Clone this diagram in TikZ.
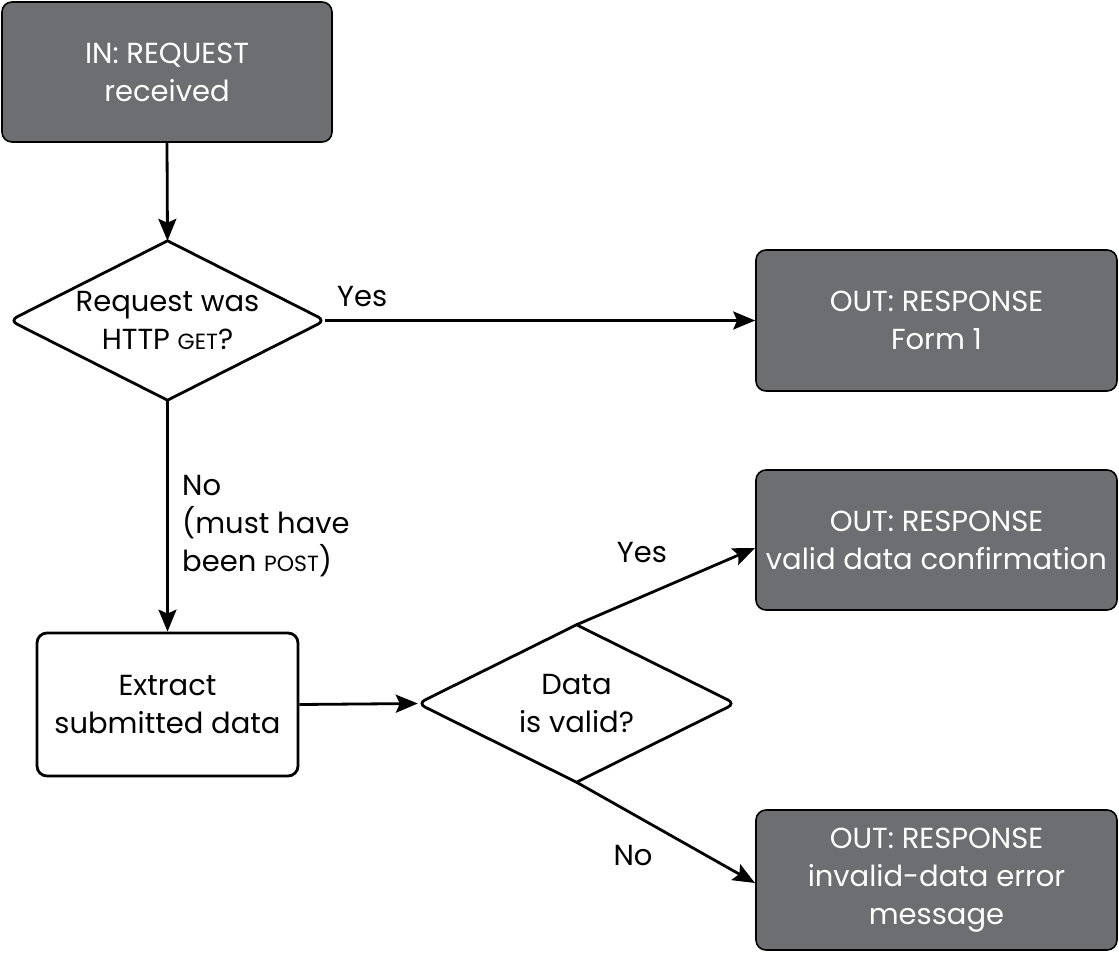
\documentclass[tikz,border=0pt]{standalone}
\usepackage{fontspec}
\setmainfont{Poppins}
\usetikzlibrary{shapes.geometric,arrows.meta}
\definecolor{boxgray}{HTML}{6D6E71}
\newcommand{\smc}[1]{{\fontsize{22}{38}\selectfont #1}}
\tikzset{
  base/.style={font=\fontsize{29}{38}\selectfont, align=center, inner sep=0pt},
  outbox/.style={base, draw=black, line width=1.6pt, fill=boxgray, text=white, rounded corners=10pt},
  procbox/.style={base, draw=black, line width=2.8pt, fill=white, rounded corners=10pt},
  decision/.style={base, shape=diamond, aspect=2, draw=none},
  diamline/.style={line width=2.8pt},
  conn/.style={line width=2.8pt, -{Stealth[length=22pt,width=18pt,inset=4pt]}},
  lbl/.style={font=\fontsize{29}{38}\selectfont, inner sep=0pt}
}
\begin{document}
\begin{tikzpicture}[x=1pt,y=-1pt]
\useasboundingbox (0,0) rectangle (1119,953);
\node[outbox, minimum width=330pt, minimum height=140pt] (in) at (167,72) {IN: REQUEST\\received};
\node[decision, minimum width=315pt, minimum height=159pt] (d1) at (167.5,320.5) {Request was\\HTTP \smc{GET}?};
\draw[diamline] (d1.north) [rounded corners=8pt] -- (d1.east) [sharp corners] -- (d1.south) [rounded corners=8pt] -- (d1.west) [sharp corners] -- cycle;
\node[outbox, minimum width=361pt, minimum height=141pt] (o1) at (936.5,320.5) {OUT: RESPONSE\\Form 1};
\node[procbox, minimum width=261pt, minimum height=143pt] (ex) at (167.5,704.5) {Extract\\submitted data};
\node[decision, minimum width=317pt, minimum height=157pt] (d2) at (576.5,703.5) {Data\\is valid?};
\draw[diamline] (d2.north) [rounded corners=8pt] -- (d2.east) [sharp corners] -- (d2.south) [rounded corners=8pt] -- (d2.west) [sharp corners] -- cycle;
\node[outbox, minimum width=361pt, minimum height=140pt] (o2) at (936.5,540) {OUT: RESPONSE\\valid data confirmation};
\node[outbox, minimum width=361pt, minimum height=140pt] (o3) at (936.5,880) {OUT: RESPONSE\\invalid-data error\\message};
\coordinate (o2in) at (755,548);
\coordinate (o3in) at (755,883);
\draw[conn] (in.south) -- (d1.north);
\draw[conn] (d1.east) -- (o1.west);
\draw[conn] (d1.south) -- (ex.north);
\draw[conn] (ex.east) -- (d2.west);
\draw[conn] (d2.north) -- (o2in);
\draw[conn] (d2.south) -- (o3in);
\node[lbl, anchor=west] (y1) at (337,297) {Yes};
\node[lbl, anchor=north west, align=left, text depth=0pt] (n1) at (182,475) {No\\(must have\\been \smc{POST})};
\node[lbl] (y2) at (642,553) {Yes};
\node[lbl] (n2) at (633,855) {No};
\end{tikzpicture}
\end{document}
